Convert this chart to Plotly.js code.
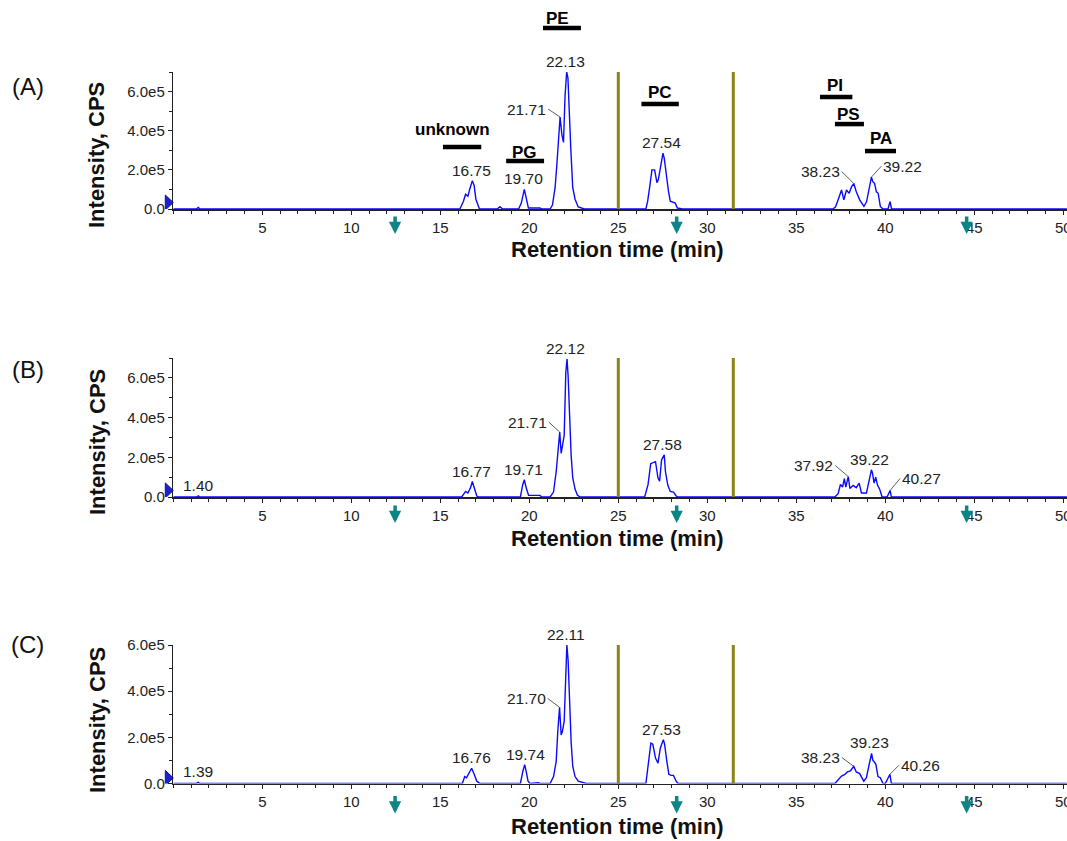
<!DOCTYPE html>
<html>
<head>
<meta charset="utf-8">
<script src="https://cdn.plot.ly/plotly-3.0.1.min.js"></script>
<style>
  html, body { margin: 0; padding: 0; background: #ffffff; }
  #chart { width: 1067px; height: 841px; }
</style>
</head>
<body>
<div id="chart"></div>
<script>
// ---------------- DATA ----------------
// Panel A chromatogram (retention time, min / intensity, CPS)
const timeA = [0, 1.3, 1.4, 1.5, 16.1, 16.3, 16.42, 16.55, 16.65, 16.8, 16.9, 17.0, 17.2, 18.2, 18.35, 18.5,
  19.4, 19.55, 19.72, 19.85, 19.95, 20.1, 20.6, 20.7, 21.17, 21.3, 21.45, 21.55, 21.64, 21.73, 21.83, 21.92,
  22.01, 22.1, 22.17, 22.23, 22.33, 22.44, 22.57, 22.75, 23.1, 26.55, 26.65, 26.76, 26.89, 27.04, 27.17,
  27.25, 27.36, 27.51, 27.58, 27.69, 27.82, 27.92, 28.05, 28.2, 28.32, 28.6, 37.05, 37.2, 37.35, 37.54,
  37.67, 37.82, 37.97, 38.1, 38.23, 38.37, 38.56, 38.8, 38.95, 39.08, 39.22, 39.3, 39.4, 39.5, 39.6, 39.72,
  39.87, 40.15, 40.27, 40.35, 40.45, 50.2];
const intA = [0, 0, 8e3, 0, 0, 4e4, 7.5e4, 6.5e4, 1.0e5, 1.45e5, 1.2e5, 5e4, 0, 0, 1.2e4, 0,
  0, 3e4, 1.0e5, 4e4, 5e3, 5e3, 5e3, 0, 0, 2e4, 1.1e5, 2.3e5, 3.6e5, 4.7e5, 3.8e5, 3.4e5,
  5.8e5, 7.0e5, 6.7e5, 5.2e5, 3.1e5, 1.1e5, 5e4, 1e4, 0, 0, 4e4, 1.1e5, 2.0e5, 2.0e5, 1.35e5,
  1.5e5, 2.1e5, 2.85e5, 2.6e5, 1.75e5, 9e4, 4e4, 3.5e4, 3e4, 5e3, 0, 0, 1e4, 4.7e4, 9.7e4,
  4.7e4, 9.7e4, 8e4, 1.13e5, 1.3e5, 8.8e4, 4.7e4, 1.3e4, 3.8e4, 9.7e4, 1.63e5, 1.4e5, 1.3e5, 8.8e4, 8e4, 1.3e4,
  0, 0, 3.8e4, 0, 0, 0];

// Panel B chromatogram
const timeB = [0, 1.3, 1.4, 1.5, 16.2, 16.42, 16.55, 16.7, 16.8, 16.92, 17.05, 17.15, 19.5, 19.63, 19.72,
  19.83, 19.96, 20.6, 20.7, 21.17, 21.36, 21.51, 21.64, 21.71, 21.79, 21.86, 21.96, 22.05, 22.12, 22.18,
  22.25, 22.35, 22.44, 22.57, 22.7, 22.85, 26.48, 26.67, 26.82, 26.98, 27.09, 27.23, 27.32, 27.43, 27.58,
  27.65, 27.78, 27.92, 28.1, 28.25, 28.35, 37.17, 37.35, 37.48, 37.6, 37.7, 37.78, 37.92, 38.01, 38.19,
  38.37, 38.53, 38.66, 38.94, 39.07, 39.22, 39.28, 39.37, 39.46, 39.56, 39.69, 39.82, 40.1, 40.27, 40.34, 50.2];
const intB = [0, 0, 6e3, 0, 0, 2.8e4, 2e4, 4.7e4, 7.8e4, 4.7e4, 5e3, 0, 0, 6.2e4, 8.7e4,
  4.5e4, 8e3, 8e3, 0, 0, 2.5e4, 1.27e5, 2.6e5, 3.27e5, 2.2e5, 2.6e5, 3.1e5, 6.27e5, 6.95e5, 6.1e5,
  4.27e5, 2.1e5, 9.7e4, 4e4, 1e4, 0, 0, 6.2e4, 1.68e5, 1.73e5, 1.78e5, 9.5e4, 8e4, 1.87e5, 2.12e5,
  1.27e5, 6e4, 2.8e4, 2.5e4, 5e3, 0, 0, 1.7e4, 6.3e4, 5e4, 9.2e4, 5e4, 1.03e5, 4.3e4, 5.8e4,
  4.7e4, 7e4, 2e4, 2e4, 7.5e4, 1.37e5, 1.2e5, 7e4, 1e5, 6e4, 3.8e4, 0, 0, 3.3e4, 0, 0];

// Panel C chromatogram
const timeC = [0, 1.29, 1.39, 1.49, 16.24, 16.37, 16.47, 16.55, 16.76, 16.92, 17.05, 17.23, 19.5, 19.63,
  19.74, 19.83, 19.93, 20.05, 20.5, 20.6, 21.17, 21.36, 21.51, 21.6, 21.7, 21.79, 21.86, 21.96, 22.05,
  22.11, 22.18, 22.25, 22.35, 22.44, 22.57, 22.75, 23.2, 26.55, 26.7, 26.83, 26.94, 27.09, 27.23, 27.36,
  27.53, 27.6, 27.73, 27.84, 27.97, 28.1, 28.25, 28.35, 37.17, 37.35, 37.54, 37.73, 37.87, 38.04, 38.23,
  38.37, 38.56, 38.79, 38.94, 39.07, 39.23, 39.3, 39.37, 39.47, 39.59, 39.72, 39.87, 40.0, 40.15, 40.26,
  40.34, 50.2];
const intC = [0, 0, 5e3, 0, 0, 3e4, 2.5e4, 3.7e4, 6.6e4, 3.7e4, 1e4, 0, 0, 5e4,
  8.2e4, 5e4, 1e4, 0, 3e3, 0, 0, 3e4, 9.5e4, 2.25e5, 3.3e5, 2.1e5, 2.25e5, 2.7e5, 5.45e5,
  6.0e5, 5.35e5, 3.55e5, 1.8e5, 7.5e4, 3e4, 1e4, 0, 0, 9.5e4, 1.75e5, 1.7e5, 1.1e5, 8.8e4, 1.53e5,
  1.9e5, 1.7e5, 9.5e4, 4e4, 3.5e4, 3.5e4, 1e4, 0, 0, 1.6e4, 3.2e4, 3.9e4, 5e4, 5.5e4, 7.4e4,
  5e4, 4.3e4, 1e4, 2.5e4, 7.4e4, 1.3e5, 1.0e5, 9.5e4, 8.3e4, 3e4, 2.5e4, 0, 0, 2e4, 4e4,
  0, 0];

// Peak labels (plain): text, time, intensity of the peak
const peakTextA = ['16.75', '19.70', '22.13', '27.54'];
const peakTimeA = [16.77, 19.65, 22.04, 27.44];
const peakIntA  = [1.45e5, 1.0e5, 7.0e5, 2.85e5];
const peakTextB = ['1.40', '16.77', '19.71', '22.12', '27.58', '39.22'];
const peakTimeB = [1.39, 16.73, 19.68, 22.04, 27.5, 39.14];
const peakIntB  = [6e3, 7.8e4, 8.7e4, 6.95e5, 2.12e5, 1.37e5];
const peakTextC = ['1.39', '16.76', '19.74', '22.11', '27.53', '39.23'];
const peakTimeC = [1.39, 16.73, 19.76, 22.04, 27.44, 39.14];
const peakIntC  = [5e3, 6.6e4, 8.2e4, 6.0e5, 1.9e5, 1.3e5];

// Peak labels with leader lines: text, time, intensity
const leadTextA = ['21.71', '38.23', '39.22'];
const leadTimeA = [21.73, 38.23, 39.22];
const leadIntA  = [4.7e5, 1.3e5, 1.63e5];
const leadTextB = ['21.71', '37.92', '40.27'];
const leadTimeB = [21.71, 37.92, 40.27];
const leadIntB  = [3.27e5, 1.03e5, 3.3e4];
const leadTextC = ['21.70', '38.23', '40.26'];
const leadTimeC = [21.7, 38.23, 40.26];
const leadIntC  = [3.3e5, 7.4e4, 4e4];

// Lipid class windows (panel A)
const classNames = ['unknown', 'PG', 'PE', 'PC', 'PI', 'PS', 'PA'];
const classStart = [15.15, 18.7, 20.77, 26.3, 36.33, 37.17, 38.86];
const classEnd   = [17.3, 20.83, 22.9, 28.4, 38.15, 38.8, 40.6];

// Axis ticks
const xTickVals = [5, 10, 15, 20, 25, 30, 35, 40, 45, 50];
const xTickText = ['5', '10', '15', '20', '25', '30', '35', '40', '45', '50'];
const yTickVals = [0, 2e5, 4e5, 6e5];
const yTickText = ['0.0', '2.0e5', '4.0e5', '6.0e5'];

// Window dividers and markers
const dividerTimes = [25.0, 31.46];
const arrowTimes = [12.46, 28.28, 44.57];
const startMarkerInt = [3.3e4, 3.3e4, 2.4e4];
const yMaxes = [7.0e5, 7.0e5, 6.0e5];
const panelNames = ['(A)', '(B)', '(C)'];

// ---------------- LAYOUT / STYLE ----------------
const W = 1067, H = 841;
const FONT = 'Liberation Sans, Arial, Helvetica, sans-serif';
const BLUE = '#0a0aff';
const OLIVE = '#8a8416';
const TEAL = '#0b8585';
const panelPx = [[209, 72], [497, 358], [783.5, 645]];
const xDomain = [173.3 / W, 1];
const xRange = [0, (W - 173.3) / 17.8];
const titleY = [250, 538, 826];
const yTitleY = [155, 442, 720];
const panelLabelY = [87, 370, 644];
const arrowTipPx = [25, 26, 30];
const classBarLevel = [0.453, 0.350, 1.321, 0.766, 0.818, 0.620, 0.423];
const classTextLevel = [0.577, 0.416, 1.387, 0.854, 0.905, 0.693, 0.518];
const classTextX = [15.7, 19.75, 21.6, 27.35, 37.17, 37.93, 39.76];
const leadOffsets = [
  [[-12, -8, 'right'], [-12, -12, 'right'], [10, -11, 'left']],
  [[-11, -10, 'right'], [-13, -11, 'right'], [10, -12, 'left']],
  [[-12, -9, 'right'], [-12, -9, 'right'], [9, -9, 'left']]
];

const series = [
  {t: timeA, v: intA, pt: peakTextA, px: peakTimeA, pv: peakIntA, lt: leadTextA, lx: leadTimeA, lv: leadIntA},
  {t: timeB, v: intB, pt: peakTextB, px: peakTimeB, pv: peakIntB, lt: leadTextB, lx: leadTimeB, lv: leadIntB},
  {t: timeC, v: intC, pt: peakTextC, px: peakTimeC, pv: peakIntC, lt: leadTextC, lx: leadTimeC, lv: leadIntC}
];

const traces = [];
const shapes = [];
const annotations = [];
const layout = {
  width: W, height: H,
  margin: {l: 0, r: 0, t: 0, b: 0, pad: 0},
  paper_bgcolor: '#ffffff', plot_bgcolor: '#ffffff',
  showlegend: false,
  font: {family: FONT, color: '#222222', size: 15}
};

series.forEach((s, i) => {
  const n = i === 0 ? '' : String(i + 1);
  const xa = 'x' + n, ya = 'y' + n;
  const [bot, top] = panelPx[i];
  const hPx = bot - top;
  layout['xaxis' + n] = {
    domain: xDomain, range: xRange, anchor: ya,
    showline: true, linecolor: '#222', linewidth: 1.5,
    showgrid: false, zeroline: false,
    ticks: 'outside', ticklen: 4, tickwidth: 1, tickcolor: '#222',
    tickvals: xTickVals, ticktext: xTickText, ticklabeloverflow: 'allow',
    tickfont: {family: FONT, size: 15, color: '#222'},
    minor: {dtick: 1, tick0: 0, ticks: 'outside', ticklen: 3, tickcolor: '#222', showgrid: false},
    fixedrange: true, automargin: false
  };
  layout['yaxis' + n] = {
    domain: [1 - bot / H, 1 - top / H], range: [0, yMaxes[i]], anchor: xa,
    showline: true, linecolor: '#222', linewidth: 1.5,
    showgrid: false, zeroline: false,
    ticks: 'outside', ticklen: 4, tickwidth: 1, tickcolor: '#222',
    tickvals: yTickVals, ticktext: yTickText,
    tickfont: {family: FONT, size: 15, color: '#222'},
    minor: {dtick: 1e5, tick0: 0, ticks: 'outside', ticklen: 3, tickcolor: '#222', showgrid: false},
    fixedrange: true, automargin: false
  };

  traces.push({
    type: 'scatter', mode: 'lines', x: s.t, y: s.v, xaxis: xa, yaxis: ya,
    line: {color: BLUE, width: 1.4}, hoverinfo: 'skip'
  });

  // start-of-run marker: blue triangle just left of the axis origin
  shapes.push({
    type: 'path', xref: 'paper', xsizemode: 'pixel', xanchor: xDomain[0],
    yref: ya, ysizemode: 'pixel', yanchor: startMarkerInt[i],
    path: 'M-8,7.5 L0,0 L-8,-7.5 Z',
    fillcolor: '#1e1ed2', line: {color: '#10108a', width: 1}, layer: 'above'
  });

  dividerTimes.forEach(t => shapes.push({
    type: 'line', xref: xa, yref: ya + ' domain', x0: t, x1: t, y0: 0, y1: 1,
    line: {color: OLIVE, width: 3}
  }));

  arrowTimes.forEach(t => annotations.push({
    xref: xa, yref: ya + ' domain', x: t, y: -arrowTipPx[i] / hPx, text: '',
    showarrow: true, ax: 0, ay: -19, arrowhead: 2, arrowsize: 0.7, arrowwidth: 3.5,
    arrowcolor: TEAL, standoff: 0
  }));

  s.pt.forEach((txt, k) => annotations.push({
    xref: xa, yref: ya, x: s.px[k], y: s.pv[k], text: txt, showarrow: false,
    xanchor: 'center', yanchor: 'bottom', font: {family: FONT, size: 15.5, color: '#222'}
  }));

  s.lt.forEach((txt, k) => {
    const [ax, ay, anc] = leadOffsets[i][k];
    annotations.push({
      xref: xa, yref: ya, x: s.lx[k], y: s.lv[k], text: txt, showarrow: true,
      ax: ax, ay: ay, xanchor: anc, yanchor: 'middle', arrowhead: 0, arrowwidth: 0.8,
      arrowcolor: '#333', standoff: 0, font: {family: FONT, size: 15.5, color: '#222'}
    });
  });

  annotations.push({
    xref: 'paper', yref: 'paper', x: 617 / W, y: 1 - titleY[i] / H,
    text: '<b>Retention time (min)</b>', showarrow: false, xanchor: 'center', yanchor: 'middle',
    font: {family: FONT, size: 22, color: '#111'}
  });
  annotations.push({
    xref: 'paper', yref: 'paper', x: 97 / W, y: 1 - yTitleY[i] / H,
    text: '<b>Intensity, CPS</b>', showarrow: false, textangle: -90, xanchor: 'center', yanchor: 'middle',
    font: {family: FONT, size: 22, color: '#111'}
  });
  annotations.push({
    xref: 'paper', yref: 'paper', x: 27.5 / W, y: 1 - panelLabelY[i] / H,
    text: panelNames[i], showarrow: false, xanchor: 'center', yanchor: 'middle',
    font: {family: FONT, size: 24, color: '#111'}
  });
});

// lipid class bars and labels (panel A)
classNames.forEach((name, k) => {
  shapes.push({
    type: 'line', xref: 'x', yref: 'y domain', x0: classStart[k], x1: classEnd[k],
    y0: classBarLevel[k], y1: classBarLevel[k], line: {color: '#000', width: 4.5}
  });
  annotations.push({
    xref: 'x', yref: 'y domain', x: classTextX[k], y: classTextLevel[k], text: '<b>' + name + '</b>',
    showarrow: false, xanchor: 'center', yanchor: 'middle', font: {family: FONT, size: 17, color: '#000'}
  });
});

layout.shapes = shapes;
layout.annotations = annotations;

Plotly.newPlot('chart', traces, layout, {staticPlot: true, displayModeBar: false});
</script>
</body>
</html>
